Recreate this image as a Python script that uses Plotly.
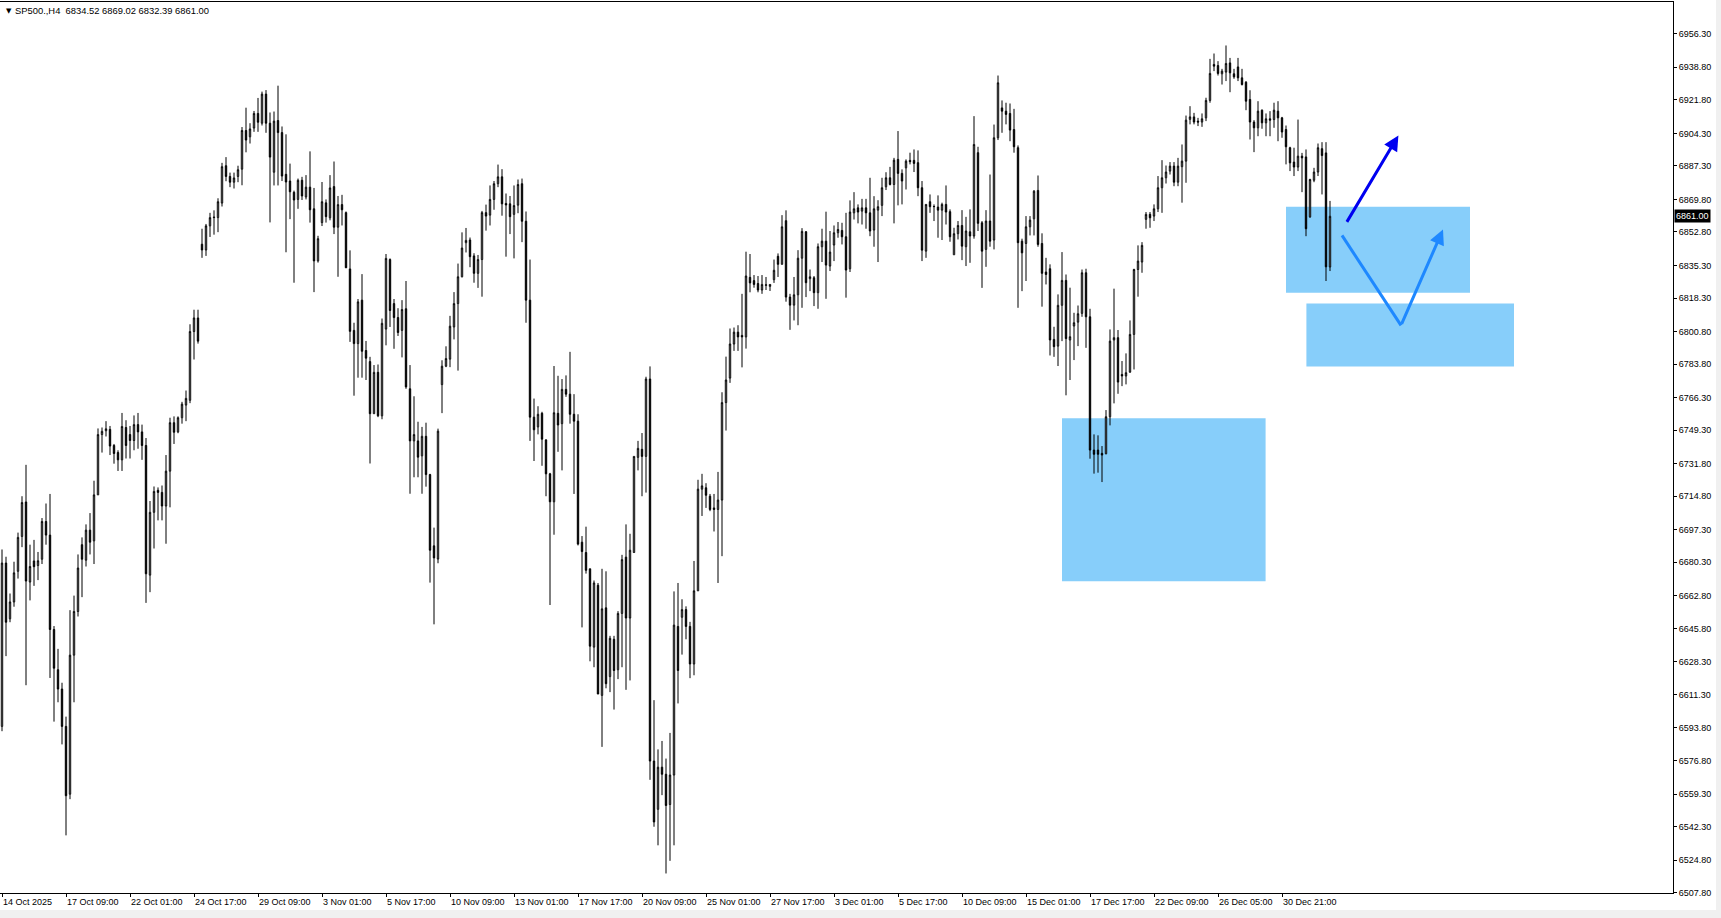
import plotly.graph_objects as go

# ---------------- data ----------------
opens = [
    6594.6, 6679.9, 6650.8, 6659.6, 6675.6, 6693.8, 6711.8, 6670.0, 6681.0, 6678.6,
    6681.9, 6701.6, 6694.5, 6645.2, 6624.2, 6614.1, 6594.6, 6559.2, 6631.8, 6654.6,
    6689.5, 6681.4, 6697.1, 6691.5, 6715.5, 6747.0, 6749.0, 6749.7, 6741.3, 6737.6,
    6733.8, 6750.7, 6747.0, 6743.9, 6752.2, 6748.4, 6741.3, 6673.6, 6706.4, 6717.9,
    6716.8, 6709.7, 6727.9, 6753.2, 6748.4, 6755.8, 6762.4, 6764.9, 6800.8, 6807.9,
    6846.4, 6843.4, 6856.0, 6860.3, 6860.3, 6867.9, 6887.4, 6881.8, 6878.8, 6881.8,
    6885.6, 6905.8, 6902.5, 6907.1, 6914.7, 6909.6, 6924.8, 6909.6, 6884.0, 6911.0,
    6904.7, 6882.9, 6879.4, 6873.5, 6869.8, 6879.8, 6871.1, 6876.2, 6864.9, 6837.7,
    6857.7, 6868.0, 6860.2, 6876.5, 6855.3, 6867.1, 6862.9, 6833.5, 6801.4, 6794.5,
    6817.2, 6790.9, 6785.1, 6757.9, 6779.5, 6756.8, 6802.1, 6838.4, 6815.4, 6808.1,
    6801.4, 6812.7, 6770.9, 6743.7, 6743.7, 6735.9, 6746.1, 6726.1, 6688.9, 6682.0,
    6773.1, 6782.7, 6786.4, 6803.2, 6815.4, 6829.4, 6847.2, 6848.6, 6840.3, 6831.2,
    6838.4, 6862.9, 6861.6, 6869.8, 6878.0, 6881.6, 6867.7, 6867.5, 6862.0, 6866.8,
    6878.0, 6858.4, 6817.2, 6756.1, 6751.0, 6758.1, 6744.2, 6726.5, 6711.9, 6758.1,
    6752.7, 6770.6, 6768.1, 6757.6, 6754.0, 6690.8, 6685.4, 6676.9, 6636.0, 6668.3,
    6610.8, 6656.5, 6620.6, 6640.1, 6624.2, 6653.6, 6683.0, 6651.2, 6685.4, 6735.1,
    6739.3, 6735.6, 6776.0, 6576.5, 6551.3, 6573.3, 6569.6, 6553.8, 6569.2, 6646.8,
    6651.6, 6655.6, 6646.8, 6627.2, 6665.4, 6718.5, 6719.2, 6714.8, 6708.7, 6707.9,
    6712.8, 6763.7, 6776.5, 6794.3, 6800.5, 6798.8, 6798.0, 6829.1, 6827.4, 6825.9,
    6822.5, 6824.9, 6824.4, 6827.9, 6840.1, 6835.9, 6858.7, 6818.8, 6814.6, 6820.0,
    6839.1, 6852.9, 6828.4, 6828.9, 6821.1, 6845.1, 6848.0, 6835.0, 6846.0, 6852.4,
    6853.6, 6850.3, 6833.6, 6862.8, 6865.4, 6863.7, 6865.4, 6862.8, 6853.8, 6864.2,
    6866.7, 6876.4, 6881.1, 6877.6, 6890.7, 6883.4, 6886.3, 6890.2, 6890.2, 6889.0,
    6875.9, 6842.8, 6868.6, 6866.0, 6865.8, 6864.2, 6867.2, 6863.4, 6840.9, 6851.9,
    6856.2, 6845.1, 6852.9, 6850.7, 6894.2, 6857.6, 6843.7, 6858.5, 6848.6, 6902.0,
    6917.6, 6915.9, 6914.7, 6906.3, 6896.8, 6848.0, 6846.8, 6855.5, 6859.7, 6874.5,
    6846.8, 6831.9, 6833.6, 6796.7, 6793.2, 6814.5, 6827.5, 6796.4, 6803.7, 6805.7,
    6810.3, 6831.5, 6808.5, 6738.9, 6738.9, 6737.2, 6737.0, 6756.3, 6796.4, 6797.6,
    6778.4, 6777.6, 6779.6, 6799.3, 6833.2, 6837.1, 6859.4, 6862.0, 6861.1, 6864.9,
    6875.9, 6881.1, 6884.6, 6887.2, 6878.8, 6886.9, 6889.8, 6911.6, 6912.9, 6910.7,
    6910.2, 6912.4, 6921.5, 6940.3, 6939.7, 6935.4, 6936.3, 6941.1, 6935.4, 6939.0,
    6933.3, 6931.0, 6922.0, 6910.2, 6907.2, 6916.4, 6909.8, 6911.9, 6911.5, 6915.9,
    6912.4, 6906.3, 6896.8, 6889.3, 6886.7, 6892.4, 6892.0, 6860.7, 6879.8, 6884.1,
    6896.3, 6894.1, 6834.52,
]
highs = [
    6687.0, 6683.2, 6664.0, 6680.6, 6695.8, 6714.8, 6731.2, 6689.5, 6692.0, 6685.7,
    6703.4, 6711.0, 6716.0, 6647.0, 6635.1, 6617.4, 6599.7, 6655.3, 6662.9, 6684.4,
    6693.3, 6700.1, 6706.0, 6722.9, 6750.2, 6750.7, 6754.0, 6751.5, 6742.1, 6738.8,
    6758.3, 6754.5, 6751.5, 6757.0, 6758.3, 6752.2, 6745.2, 6712.3, 6719.9, 6719.4,
    6720.4, 6736.3, 6755.8, 6756.5, 6756.5, 6764.1, 6770.0, 6804.6, 6812.2, 6812.2,
    6854.5, 6857.0, 6862.8, 6864.1, 6870.4, 6888.9, 6891.9, 6883.8, 6883.8, 6887.4,
    6907.6, 6917.7, 6909.6, 6916.0, 6922.8, 6926.1, 6926.9, 6915.2, 6915.7, 6929.2,
    6907.9, 6903.8, 6888.5, 6874.4, 6880.7, 6881.6, 6882.5, 6894.9, 6875.8, 6850.8,
    6878.9, 6869.8, 6882.5, 6889.6, 6871.6, 6872.2, 6863.5, 6843.2, 6805.4, 6817.8,
    6830.8, 6795.9, 6787.6, 6783.3, 6783.6, 6807.6, 6841.3, 6839.0, 6817.8, 6813.0,
    6817.2, 6827.2, 6783.3, 6767.0, 6753.7, 6751.0, 6753.2, 6726.5, 6698.4, 6750.1,
    6785.8, 6793.1, 6809.0, 6821.4, 6836.3, 6852.6, 6854.9, 6849.9, 6841.7, 6840.8,
    6863.8, 6867.1, 6877.1, 6879.4, 6888.0, 6885.6, 6872.9, 6871.6, 6877.1, 6880.2,
    6880.7, 6863.5, 6838.4, 6765.8, 6761.8, 6758.9, 6744.6, 6727.0, 6782.8, 6777.7,
    6776.0, 6777.9, 6790.2, 6768.1, 6757.6, 6694.0, 6698.9, 6676.9, 6670.8, 6669.5,
    6676.9, 6675.6, 6641.9, 6641.9, 6654.8, 6684.2, 6700.1, 6695.2, 6735.6, 6743.7,
    6747.8, 6777.2, 6782.6, 6608.3, 6582.6, 6587.0, 6577.8, 6591.2, 6665.1, 6669.5,
    6661.0, 6657.3, 6649.2, 6681.0, 6723.4, 6726.5, 6721.6, 6716.0, 6716.0, 6727.5,
    6769.1, 6787.7, 6802.4, 6802.9, 6804.1, 6820.5, 6842.5, 6841.3, 6830.3, 6829.8,
    6830.3, 6829.3, 6825.4, 6838.4, 6841.6, 6861.6, 6864.1, 6820.5, 6829.3, 6843.3,
    6854.8, 6853.3, 6833.2, 6829.8, 6846.8, 6854.5, 6863.4, 6853.3, 6856.2, 6858.0,
    6857.6, 6862.8, 6869.3, 6873.6, 6867.2, 6870.1, 6870.1, 6881.1, 6871.5, 6869.4,
    6881.1, 6884.0, 6886.8, 6891.5, 6905.5, 6885.5, 6890.7, 6894.2, 6895.9, 6895.4,
    6879.4, 6867.2, 6872.4, 6867.2, 6871.9, 6868.1, 6877.1, 6864.6, 6855.0, 6858.5,
    6864.2, 6860.7, 6864.6, 6913.3, 6897.3, 6858.5, 6864.2, 6882.8, 6908.9, 6934.5,
    6921.5, 6920.3, 6919.9, 6917.1, 6898.0, 6849.3, 6861.1, 6861.1, 6874.7, 6882.3,
    6852.1, 6839.3, 6835.9, 6803.3, 6820.2, 6842.3, 6830.6, 6823.7, 6810.6, 6814.4,
    6833.2, 6833.6, 6812.7, 6747.1, 6746.6, 6741.0, 6759.8, 6801.9, 6823.2, 6801.6,
    6785.4, 6789.4, 6806.6, 6833.6, 6845.8, 6847.5, 6863.2, 6863.2, 6867.2, 6882.0,
    6890.3, 6887.5, 6889.3, 6889.3, 6891.5, 6898.5, 6913.6, 6918.5, 6915.0, 6912.4,
    6914.7, 6922.9, 6943.2, 6946.0, 6942.0, 6938.0, 6950.2, 6943.7, 6938.0, 6943.7,
    6938.0, 6931.6, 6926.8, 6911.2, 6921.1, 6916.8, 6914.7, 6915.9, 6920.3, 6921.1,
    6912.9, 6908.4, 6897.3, 6896.8, 6911.5, 6894.1, 6895.9, 6880.6, 6886.3, 6899.0,
    6899.7, 6899.7, 6869.02,
]
lows = [
    6592.1, 6631.3, 6649.0, 6657.1, 6671.8, 6688.2, 6616.1, 6660.4, 6668.0, 6671.0,
    6679.4, 6689.5, 6619.9, 6597.1, 6607.2, 6585.2, 6537.7, 6556.6, 6607.2, 6652.0,
    6662.1, 6678.1, 6684.4, 6679.4, 6715.5, 6737.6, 6746.0, 6736.3, 6731.8, 6728.0,
    6728.0, 6734.5, 6734.5, 6738.8, 6739.6, 6733.8, 6659.1, 6664.7, 6687.5, 6702.2,
    6702.2, 6690.0, 6709.0, 6742.1, 6747.7, 6752.7, 6754.0, 6763.4, 6786.2, 6794.5,
    6839.3, 6840.3, 6850.2, 6851.4, 6852.7, 6866.1, 6879.3, 6876.2, 6875.5, 6878.8,
    6877.2, 6894.4, 6899.0, 6905.1, 6905.1, 6908.4, 6904.6, 6857.8, 6877.1, 6877.1,
    6879.4, 6842.2, 6859.5, 6826.3, 6864.9, 6869.5, 6869.8, 6857.7, 6821.4, 6836.8,
    6855.9, 6857.7, 6858.9, 6851.7, 6829.4, 6856.2, 6834.1, 6795.4, 6767.3, 6776.7,
    6776.7, 6775.5, 6731.9, 6757.9, 6756.1, 6755.0, 6793.6, 6803.2, 6791.8, 6798.5,
    6787.3, 6770.9, 6716.1, 6724.7, 6724.7, 6716.1, 6719.8, 6669.7, 6647.9, 6679.8,
    6758.2, 6782.2, 6782.2, 6796.7, 6780.4, 6829.1, 6842.1, 6834.4, 6826.3, 6823.6,
    6819.0, 6853.5, 6856.2, 6864.4, 6876.2, 6861.3, 6839.9, 6851.7, 6839.0, 6862.6,
    6847.5, 6805.4, 6743.7, 6733.2, 6747.1, 6730.7, 6714.8, 6658.0, 6694.7, 6738.0,
    6728.3, 6766.7, 6752.7, 6716.0, 6689.1, 6646.3, 6674.4, 6628.6, 6625.5, 6611.5,
    6583.9, 6614.5, 6612.5, 6603.4, 6619.3, 6625.5, 6613.7, 6618.6, 6685.4, 6728.3,
    6714.8, 6716.7, 6566.7, 6542.2, 6532.5, 6558.7, 6517.8, 6524.4, 6532.5, 6606.6,
    6632.1, 6640.1, 6619.8, 6621.3, 6665.4, 6704.5, 6708.7, 6707.0, 6696.4, 6669.5,
    6683.5, 6749.1, 6774.0, 6790.7, 6790.7, 6782.1, 6791.9, 6821.3, 6823.7, 6821.3,
    6820.5, 6822.5, 6822.0, 6826.2, 6829.3, 6835.9, 6816.4, 6801.7, 6806.6, 6804.1,
    6813.2, 6818.8, 6821.9, 6814.1, 6812.7, 6837.1, 6817.9, 6832.4, 6837.6, 6849.8,
    6846.3, 6818.5, 6831.9, 6859.3, 6857.3, 6856.7, 6854.5, 6850.6, 6845.1, 6837.1,
    6861.1, 6874.7, 6877.1, 6857.3, 6866.7, 6867.2, 6875.0, 6888.1, 6884.1, 6871.5,
    6837.6, 6839.3, 6862.8, 6858.5, 6849.8, 6848.6, 6856.7, 6847.7, 6840.9, 6848.9,
    6838.1, 6835.0, 6836.7, 6849.3, 6853.3, 6823.6, 6834.6, 6845.1, 6843.7, 6900.8,
    6904.6, 6909.0, 6900.2, 6894.2, 6813.2, 6821.9, 6827.2, 6851.0, 6851.0, 6845.1,
    6813.8, 6825.4, 6788.3, 6787.6, 6782.8, 6795.8, 6767.5, 6775.5, 6785.9, 6793.2,
    6808.5, 6792.3, 6734.4, 6726.6, 6727.1, 6722.2, 6736.7, 6751.8, 6763.3, 6768.3,
    6772.3, 6773.2, 6779.3, 6781.0, 6819.0, 6831.5, 6854.5, 6855.0, 6858.5, 6863.2,
    6862.8, 6878.1, 6882.8, 6876.7, 6876.7, 6868.1, 6878.5, 6909.0, 6909.0, 6908.1,
    6907.7, 6910.7, 6920.3, 6936.8, 6934.5, 6929.8, 6931.6, 6925.8, 6932.8, 6931.6,
    6929.3, 6916.4, 6901.1, 6894.5, 6902.8, 6906.7, 6902.8, 6902.8, 6907.2, 6900.2,
    6902.0, 6888.1, 6884.6, 6882.0, 6884.6, 6873.6, 6850.6, 6860.2, 6878.8, 6882.0,
    6872.4, 6827.2, 6832.39,
]
closes = [
    6679.9, 6649.0, 6659.6, 6674.8, 6693.3, 6711.5, 6670.5, 6678.1, 6678.0, 6681.1,
    6701.6, 6694.5, 6645.2, 6625.0, 6614.1, 6594.6, 6558.4, 6631.8, 6654.6, 6677.3,
    6681.9, 6697.1, 6690.8, 6715.5, 6747.0, 6748.7, 6750.0, 6741.0, 6737.1, 6733.8,
    6751.2, 6741.3, 6743.9, 6752.2, 6748.4, 6741.3, 6674.3, 6706.4, 6717.3, 6716.8,
    6709.7, 6727.9, 6753.2, 6748.2, 6755.8, 6762.9, 6765.9, 6800.8, 6807.9, 6795.8,
    6843.4, 6856.0, 6860.3, 6860.5, 6868.6, 6886.9, 6881.8, 6878.8, 6881.0, 6885.3,
    6905.8, 6900.8, 6906.6, 6914.7, 6910.1, 6924.8, 6909.6, 6891.9, 6910.7, 6904.7,
    6882.0, 6878.9, 6873.8, 6869.5, 6879.8, 6871.6, 6876.2, 6864.4, 6837.7, 6849.3,
    6868.6, 6860.8, 6875.8, 6855.3, 6867.1, 6864.4, 6834.1, 6800.9, 6794.5, 6816.3,
    6790.5, 6786.9, 6757.9, 6779.5, 6756.8, 6805.1, 6839.0, 6811.8, 6808.1, 6800.3,
    6812.3, 6771.9, 6743.7, 6747.0, 6735.2, 6746.1, 6726.1, 6686.6, 6682.6, 6748.8,
    6782.7, 6786.7, 6803.6, 6815.4, 6829.4, 6844.4, 6848.4, 6839.9, 6831.2, 6838.4,
    6862.9, 6861.1, 6869.8, 6878.0, 6881.6, 6867.5, 6866.9, 6860.8, 6866.6, 6877.6,
    6858.4, 6817.2, 6756.1, 6749.5, 6757.6, 6744.6, 6726.5, 6711.9, 6758.4, 6752.0,
    6770.6, 6768.1, 6757.6, 6754.0, 6689.8, 6685.9, 6676.1, 6636.5, 6669.5, 6611.5,
    6656.0, 6616.9, 6640.6, 6623.8, 6653.6, 6681.7, 6651.2, 6686.6, 6735.6, 6739.8,
    6735.6, 6776.0, 6576.5, 6544.7, 6573.3, 6569.6, 6553.3, 6569.2, 6647.5, 6623.8,
    6655.6, 6646.8, 6627.2, 6665.4, 6718.5, 6720.2, 6715.3, 6707.9, 6707.9, 6712.8,
    6763.7, 6775.5, 6794.3, 6800.5, 6798.0, 6798.0, 6829.8, 6826.2, 6825.4, 6822.5,
    6825.4, 6825.2, 6825.4, 6832.8, 6835.9, 6855.5, 6818.8, 6814.6, 6820.0, 6839.1,
    6853.1, 6826.3, 6829.4, 6821.1, 6845.1, 6848.0, 6835.5, 6842.3, 6852.4, 6854.1,
    6850.3, 6832.9, 6863.2, 6864.9, 6863.2, 6865.4, 6862.8, 6853.3, 6864.9, 6866.0,
    6875.9, 6881.1, 6877.6, 6890.3, 6883.4, 6879.4, 6889.8, 6889.5, 6888.6, 6875.9,
    6843.3, 6867.2, 6866.0, 6866.1, 6864.2, 6867.2, 6863.2, 6850.3, 6851.9, 6856.2,
    6845.4, 6853.3, 6850.7, 6898.5, 6857.3, 6842.8, 6858.5, 6848.0, 6902.0, 6930.7,
    6915.9, 6914.2, 6906.0, 6897.3, 6847.2, 6841.9, 6855.5, 6859.0, 6874.1, 6846.3,
    6831.2, 6830.6, 6796.4, 6792.9, 6814.5, 6827.5, 6797.1, 6798.1, 6805.4, 6810.1,
    6831.5, 6808.5, 6738.9, 6736.7, 6736.7, 6736.3, 6756.3, 6795.8, 6797.6, 6774.4,
    6777.6, 6779.3, 6799.3, 6833.2, 6837.6, 6845.8, 6862.0, 6860.2, 6864.9, 6875.9,
    6881.1, 6884.1, 6887.2, 6878.8, 6887.2, 6889.8, 6911.2, 6912.9, 6910.2, 6910.2,
    6911.9, 6921.5, 6935.6, 6939.4, 6935.6, 6936.8, 6940.8, 6935.9, 6933.8, 6933.3,
    6929.8, 6921.1, 6910.2, 6907.2, 6915.9, 6909.8, 6911.9, 6911.2, 6916.4, 6912.4,
    6905.0, 6897.3, 6888.9, 6886.7, 6892.4, 6891.5, 6854.5, 6880.2, 6884.1, 6896.8,
    6892.7, 6834.6, 6861.00,
]

date_tick_labels = [
    "14 Oct 2025", "17 Oct 09:00", "22 Oct 01:00", "24 Oct 17:00", "29 Oct 09:00",
    "3 Nov 01:00", "5 Nov 17:00", "10 Nov 09:00", "13 Nov 01:00", "17 Nov 17:00",
    "20 Nov 09:00", "25 Nov 01:00", "27 Nov 17:00", "3 Dec 01:00", "5 Dec 17:00",
    "10 Dec 09:00", "15 Dec 01:00", "17 Dec 17:00", "22 Dec 09:00", "26 Dec 05:00",
    "30 Dec 21:00",
]
date_tick_bars = [16 * k for k in range(len(date_tick_labels))]

price_tick_labels = [
    "6956.30", "6938.80", "6921.80", "6904.30", "6887.30", "6869.80", "6852.80",
    "6835.30", "6818.30", "6800.80", "6783.80", "6766.30", "6749.30", "6731.80",
    "6714.80", "6697.30", "6680.30", "6662.80", "6645.80", "6628.30", "6611.30",
    "6593.80", "6576.80", "6559.30", "6542.30", "6524.80", "6507.80",
]
price_tick_values = [float(s) for s in price_tick_labels]

symbol = "SP500.,H4"
last_price = closes[-1]

# ---------------- drawing objects (zones / arrows) ----------------
zones = [  # (bar0, bar1, price_low, price_high)
    (265.0, 315.9, 6670.4, 6755.5),
    (321.0, 367.0, 6821.0, 6866.0),
    (326.1, 378.0, 6782.5, 6815.5),
]
ZONE_COLOR = "#87CEFA"
DARK_BLUE = "#0000F0"
LIGHT_BLUE = "#1E88FF"

n = len(closes)
bars = list(range(n))

fig = go.Figure()
fig.add_trace(go.Candlestick(
    x=bars, open=opens, high=highs, low=lows, close=closes,
    increasing=dict(line=dict(color="black", width=1), fillcolor="white"),
    decreasing=dict(line=dict(color="black", width=1), fillcolor="black"),
    whiskerwidth=0, showlegend=False, hoverinfo="skip",
))

for b0, b1, p0, p1 in zones:
    fig.add_shape(type="rect", xref="x", yref="y", x0=b0, x1=b1, y0=p0, y1=p1,
                  fillcolor=ZONE_COLOR, line=dict(width=0), layer="below")

# dark blue arrow (up)
fig.add_annotation(x=349.1, y=6903.2, ax=336.0, ay=6857.3, xref="x", yref="y",
                   axref="x", ayref="y", text="", showarrow=True, arrowhead=2,
                   arrowsize=1, arrowwidth=3, arrowcolor=DARK_BLUE)
# light blue V path: down leg then arrow up
fig.add_shape(type="line", xref="x", yref="y", x0=335.0, y0=6851.0, x1=349.75, y1=6804.0,
              line=dict(color=LIGHT_BLUE, width=3))
fig.add_annotation(x=360.25, y=6854.1, ax=349.75, ay=6804.0, xref="x", yref="y",
                   axref="x", ayref="y", text="", showarrow=True, arrowhead=2,
                   arrowsize=1, arrowwidth=3, arrowcolor=LIGHT_BLUE)

# header text
fig.add_annotation(xref="paper", yref="paper", x=0.0025, y=0.9899, xanchor="left", yanchor="middle",
                   text="▼", showarrow=False, font=dict(family="DejaVu Sans", size=7, color="black"))
hdr = f"{symbol}\u00a0\u00a0{opens[-1]:.2f} {highs[-1]:.2f} {lows[-1]:.2f} {last_price:.2f}"
fig.add_annotation(xref="paper", yref="paper", x=0.0078, y=0.9899, xanchor="left", yanchor="middle",
                   text=hdr, showarrow=False, font=dict(family="Liberation Sans", size=9.4, color="black"))

# current price label
fig.add_annotation(xref="paper", yref="y", x=1.0008, y=last_price, xanchor="left", yanchor="middle",
                   text=f"{last_price:.2f}", showarrow=False, bgcolor="black", borderpad=1,
                   font=dict(family="Liberation Sans", size=9, color="white"))

# light grey window strips (bottom / right)
fig.add_shape(type="rect", xref="paper", yref="paper", x0=-0.01, x1=1.03, y0=-0.0191, y1=-0.03,
              fillcolor="#F0F0F0", line=dict(width=0), layer="below")
fig.add_shape(type="rect", xref="paper", yref="paper", x0=1.0257, x1=1.03, y0=-0.03, y1=1.01,
              fillcolor="#F0F0F0", line=dict(width=0), layer="below")

tick_font = dict(family="Liberation Sans", size=9, color="black")
fig.update_layout(
    width=1721, height=918,
    margin=dict(l=0, r=48, t=2, b=25, autoexpand=False),
    paper_bgcolor="white", plot_bgcolor="white",
    boxgap=0.5, hovermode=False, showlegend=False,
    xaxis=dict(
        range=[-0.5, 417.75], rangeslider=dict(visible=False), showgrid=False, zeroline=False,
        tickmode="array", tickvals=date_tick_bars, ticktext=date_tick_labels,
        ticks="outside", ticklen=3, tickcolor="black", tickwidth=1,
        ticklabelposition="outside right", tickfont=tick_font,
        showline=True, linecolor="black", linewidth=1, mirror=True, fixedrange=True,
    ),
    yaxis=dict(
        range=[6507.6, 6972.9], side="right", showgrid=False, zeroline=False,
        tickmode="array", tickvals=price_tick_values, ticktext=price_tick_labels,
        ticks="outside", ticklen=3, tickcolor="black", tickwidth=1, tickfont=tick_font,
        showline=True, linecolor="black", linewidth=1, mirror=True, fixedrange=True,
    ),
)

fig.write_html("out.html", config={"displayModeBar": False},
               post_script="document.body.style.margin='0';document.body.style.overflow='hidden';")
